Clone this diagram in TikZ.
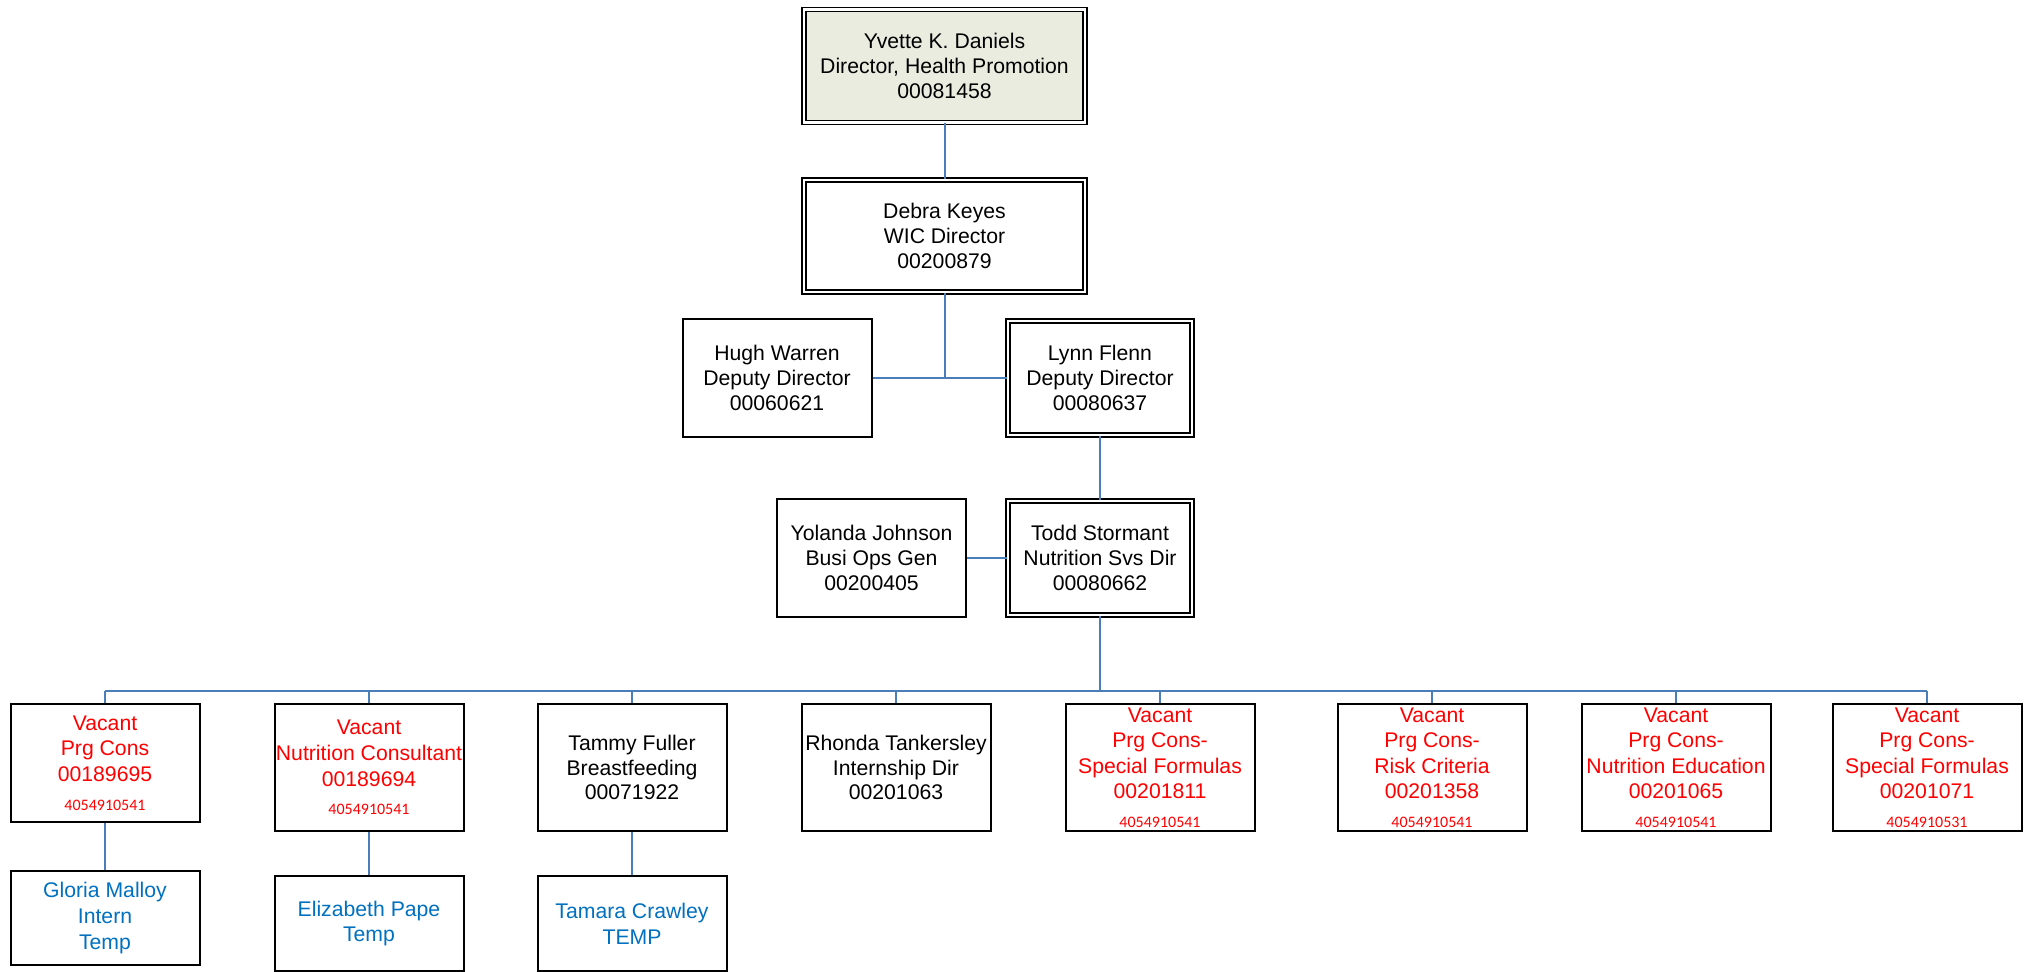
\documentclass[tikz,border=0pt]{standalone}
\usepackage{fontspec}
\setmainfont{Liberation Sans}
\newfontfamily\numfont{Carlito}
\usetikzlibrary{calc,positioning}
\definecolor{linkblue}{RGB}{74,126,187}
\definecolor{tempblue}{RGB}{0,112,192}
\definecolor{topfill}{RGB}{235,236,224}
\newcommand{\acct}[1]{\\[1.5pt]{\numfont\fontsize{8}{9}\selectfont #1}}

\begin{document}
\begin{tikzpicture}[x=0.5pt,y=-0.5pt,
    box/.style={draw,line width=1pt,inner sep=0pt,align=center,
        minimum width=94.5pt,minimum height=59pt,
        font=\fontsize{10.6}{12.3}\selectfont},
    dbox/.style={box,double,line width=0.9pt,double distance=1.1pt,
        minimum width=92pt,minimum height=57pt},
    vacant/.style={box,text=red,minimum height=63.5pt,
        font=\fontsize{10.6}{12.8}\selectfont},
    posbox/.style={box,minimum height=63.5pt},
    temp/.style={box,text=tempblue,minimum height=47.5pt,
        font=\fontsize{10.6}{12.8}\selectfont},
    link/.style={draw=linkblue,line width=1pt}]
        \useasboundingbox (0,0) rectangle (2028,971);

        \node[dbox,fill=topfill,minimum width=140.5pt,minimum height=56.5pt] (yvette) at (944.5,66)
            {Yvette K. Daniels\\Director, Health Promotion\\00081458};
        \node[dbox,minimum width=140.5pt,minimum height=56pt] (debra) at (944.5,236)
            {Debra Keyes\\WIC Director\\00200879};

        \node[box] (hugh) at (777,378) {Hugh Warren\\Deputy Director\\00060621};
        \node[dbox] (lynn) at (1100,378) {Lynn Flenn\\Deputy Director\\00080637};

        \node[box] (yolanda) at (871.5,558) {Yolanda Johnson\\Busi Ops Gen\\00200405};
        \node[dbox] (todd) at (1100,558) {Todd Stormant\\Nutrition Svs Dir\\00080662};

        \node[vacant,minimum height=59pt] (prg1) at (105,763)
            {Vacant\\Prg Cons\\00189695\acct{4054910541}};
        \node[vacant] (nutcons) at (369,767.5)
            {Vacant\\Nutrition Consultant\\00189694\acct{4054910541}};
        \node[posbox] (tammy) at (632,767.5) {Tammy Fuller\\Breastfeeding\\00071922};
        \node[posbox] (rhonda) at (896,767.5) {Rhonda Tankersley\\Internship Dir\\00201063};
        \node[vacant] (spec1) at (1160,767.5)
            {Vacant\\Prg Cons-\\Special Formulas\\00201811\acct{4054910541}};
        \node[vacant] (risk) at (1432,767.5)
            {Vacant\\Prg Cons-\\Risk Criteria\\00201358\acct{4054910541}};
        \node[vacant] (nuted) at (1676,767.5)
            {Vacant\\Prg Cons-\\Nutrition Education\\00201065\acct{4054910541}};
        \node[vacant] (spec2) at (1927,767.5)
            {Vacant\\Prg Cons-\\Special Formulas\\00201071\acct{4054910531}};

        \node[temp,minimum height=47pt] (gloria) at (105,918) {Gloria Malloy\\Intern\\Temp};
        \node[temp] (elizabeth) at (369,923.5) {Elizabeth Pape\\Temp};
        \node[temp] (tamara) at (632,923.5) {Tamara Crawley\\TEMP};

        \coordinate (bus) at (1100,691);

        \draw[link] (yvette.south) -- (debra.north);
        \draw[link] (debra.south) -- (debra.south |- hugh.east);
        \draw[link] (hugh.east) -- (lynn.west);
        \draw[link] (lynn.south) -- (todd.north);
        \draw[link] (yolanda.east) -- (todd.west);
        \draw[link] (todd.south) -- (bus);
        \draw[link] (prg1.north |- bus) -- (spec2.north |- bus);
        \foreach \n in {prg1,nutcons,tammy,rhonda,spec1,risk,nuted,spec2}
            \draw[link] (\n.north |- bus) -- (\n.north);
        \draw[link] (prg1.south) -- (gloria.north);
        \draw[link] (nutcons.south) -- (elizabeth.north);
        \draw[link] (tammy.south) -- (tamara.north);
    \end{tikzpicture}
\end{document}
